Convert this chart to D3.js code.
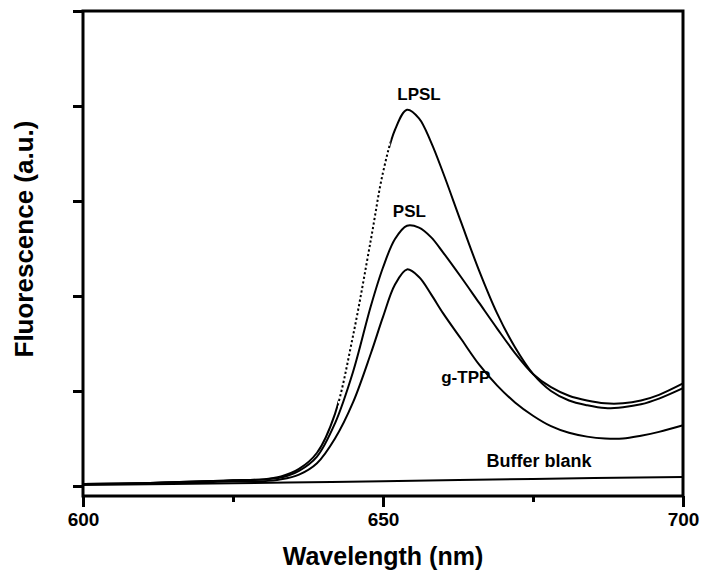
<!DOCTYPE html>
<html>
<head>
<meta charset="utf-8">
<script src="https://cdn.jsdelivr.net/npm/d3@7"></script>
<style>
  body { margin: 0; background: #fff; }
  text { font-family: "Liberation Sans", Arial, sans-serif; font-weight: bold; fill: #000; }
  .curve { fill: none; stroke: #000; stroke-width: 2; }
</style>
</head>
<body>
<div id="chart"></div>
<script>
var width = 706, height = 575,
    margin = {top: 11, right: 23, bottom: 79, left: 83};

// wavelengths (nm) and intensities
var wavelength = [600, 610, 620, 625, 630, 633, 636, 639, 642, 645, 648, 650, 652, 654, 656, 658, 660,
                  663, 666, 669, 672, 675, 678, 681, 684, 687, 690, 693, 696, 700];
var lpsl = [0.02, 0.03, 0.05, 0.06, 0.07, 0.10, 0.18, 0.35, 0.76, 1.58, 2.60, 3.30, 3.75, 3.96, 3.87, 3.62, 3.30,
            2.78, 2.27, 1.82, 1.46, 1.18, 1.00, 0.90, 0.85, 0.82, 0.83, 0.86, 0.92, 1.03];
var psl  = [0.02, 0.03, 0.05, 0.06, 0.07, 0.09, 0.16, 0.31, 0.66, 1.20, 1.90, 2.30, 2.60, 2.74, 2.72, 2.62, 2.46,
            2.20, 1.93, 1.66, 1.40, 1.18, 1.04, 0.95, 0.90, 0.87, 0.87, 0.90, 0.96, 1.08];
var gtpp = [0.02, 0.03, 0.04, 0.05, 0.05, 0.07, 0.12, 0.24, 0.50, 0.88, 1.40, 1.78, 2.12, 2.28, 2.20, 2.02, 1.82,
            1.55, 1.28, 1.06, 0.88, 0.74, 0.63, 0.56, 0.52, 0.50, 0.50, 0.53, 0.57, 0.64];
var blankWl = [600, 625, 650, 675, 700];
var blank   = [0.01, 0.03, 0.05, 0.075, 0.095];

var yTicks = [0, 1, 2, 3, 4, 5];
var xMajor = [600, 650, 700];
var xMinor = [625, 675];
var dottedRange = [642.5, 651.2];   // LPSL drawn dotted on this stretch

var labels = [
  {text: "LPSL", x: 656.0, y: 4.06, size: 17},
  {text: "PSL", x: 654.4, y: 2.83, size: 17},
  {text: "g-TPP", x: 663.8, y: 1.08, size: 17},
  {text: "Buffer blank", x: 676.0, y: 0.20, size: 18}
];

var x = d3.scaleLinear().domain([600, 700]).range([margin.left, width - margin.right]);
var y = d3.scaleLinear().domain([-0.105, 5]).range([height - margin.bottom, margin.top]);

var svg = d3.select("#chart").append("svg")
    .attr("width", width)
    .attr("height", height);

var line = d3.line()
    .x(function(d) { return x(d[0]); })
    .y(function(d) { return y(d[1]); })
    .curve(d3.curveCatmullRom.alpha(0.5));

function pairs(xs, ys) { return xs.map(function(v, i) { return [v, ys[i]]; }); }

// clip paths for the dotted stretch of LPSL
var defs = svg.append("defs");
defs.append("clipPath").attr("id", "solidL").append("rect")
    .attr("x", 0).attr("y", 0).attr("width", x(dottedRange[0])).attr("height", height);
defs.append("clipPath").attr("id", "solidR").append("rect")
    .attr("x", x(dottedRange[1])).attr("y", 0).attr("width", width).attr("height", height);
defs.append("clipPath").attr("id", "dotted").append("rect")
    .attr("x", x(dottedRange[0])).attr("y", 0)
    .attr("width", x(dottedRange[1]) - x(dottedRange[0])).attr("height", height);

var curves = svg.append("g");

curves.append("path").attr("class", "curve").attr("d", line(pairs(blankWl, blank)));
curves.append("path").attr("class", "curve").attr("d", line(pairs(wavelength, gtpp)));
curves.append("path").attr("class", "curve").attr("d", line(pairs(wavelength, psl)));

var lpslD = line(pairs(wavelength, lpsl));
curves.append("path").attr("class", "curve").attr("clip-path", "url(#solidL)").attr("d", lpslD);
curves.append("path").attr("class", "curve").attr("clip-path", "url(#solidR)").attr("d", lpslD);
curves.append("path").attr("class", "curve").attr("clip-path", "url(#dotted)").attr("d", lpslD)
    .attr("stroke-width", 2.4)
    .attr("stroke-dasharray", "2.2,2.4");

// frame
svg.append("rect")
    .attr("x", x(600)).attr("y", y(5))
    .attr("width", x(700) - x(600)).attr("height", y(-0.105) - y(5))
    .attr("fill", "none").attr("stroke", "#000").attr("stroke-width", 3);

// y ticks, no labels
svg.append("g")
    .attr("transform", "translate(" + x(600) + ",0)")
    .call(d3.axisLeft(y).tickValues(yTicks).tickSize(10).tickFormat(""))
    .call(function(g) {
        g.select(".domain").remove();
        g.selectAll("line").attr("stroke-width", 3);
    });

// x ticks
svg.append("g")
    .attr("transform", "translate(0," + y(-0.105) + ")")
    .call(d3.axisBottom(x).tickValues(xMajor).tickSize(11).tickPadding(6).tickFormat(d3.format("d")))
    .call(function(g) {
        g.select(".domain").remove();
        g.selectAll("line").attr("stroke-width", 3);
        g.selectAll("text").attr("font-size", 19).attr("font-family", null);
    });
svg.append("g")
    .attr("transform", "translate(0," + y(-0.105) + ")")
    .call(d3.axisBottom(x).tickValues(xMinor).tickSize(6).tickFormat(""))
    .call(function(g) {
        g.select(".domain").remove();
        g.selectAll("line").attr("stroke-width", 3);
    });

// axis titles
svg.append("text")
    .attr("x", x(650))
    .attr("y", 565)
    .attr("text-anchor", "middle")
    .attr("font-size", 25)
    .text("Wavelength (nm)");

svg.append("text")
    .attr("transform", "translate(33," + y(2.6) + ") rotate(-90)")
    .attr("text-anchor", "middle")
    .attr("font-size", 26)
    .text("Fluorescence (a.u.)");

// curve labels
svg.append("g").selectAll("text")
    .data(labels)
    .enter().append("text")
    .attr("x", function(d) { return x(d.x); })
    .attr("y", function(d) { return y(d.y); })
    .attr("text-anchor", "middle")
    .attr("font-size", function(d) { return d.size; })
    .text(function(d) { return d.text; });
</script>
</body>
</html>
